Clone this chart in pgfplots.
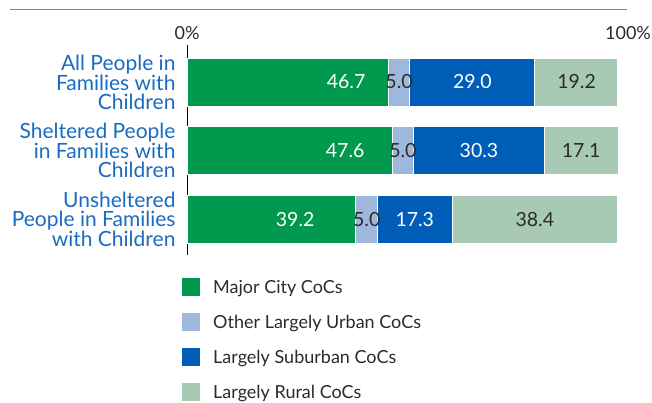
\documentclass[border=0pt]{standalone}
\usepackage{fontspec}
\setmainfont{Lato}
\usepackage{pgfplots}
\pgfplotsset{compat=1.18}

\definecolor{citygreen}{HTML}{00994D}
\definecolor{urbanblue}{HTML}{9DB8DB}
\definecolor{suburbblue}{HTML}{005EB8}
\definecolor{ruralgreen}{HTML}{A8CAB4}
\definecolor{catblue}{HTML}{1A6BC1}
\definecolor{topline}{HTML}{5B8FD0}
\definecolor{darktext}{HTML}{2B2B2B}

\newcommand{\catfont}{\fontsize{21bp}{19bp}\selectfont}
\newcommand{\valfont}{\fontsize{19.5bp}{20bp}\selectfont}
\newcommand{\legfont}{\fontsize{18bp}{19bp}\selectfont}

% shares per CoC type (percent)
\pgfplotstableread{
row city urban suburb rural
0   46.7 5.0   29.0   19.2
1   47.6 5.0   30.3   17.1
2   39.2 5.0   17.3   38.4
}\shares

% label positions (centre of each segment, or chosen spot)
\pgfplotstableread{
x     y lab
36.9  0 46.7
66.2  0 29.0
36.7  1 47.6
67.75 1 30.3
25.1  2 39.2
52.85 2 17.3
}\whitelabels
\pgfplotstableread{
x     y lab
49.2  0 5.0
90.4  0 19.2
50.1  1 5.0
91.45 1 17.1
41.7  2 5.0
80.7  2 38.4
}\darklabels

\begin{document}
\begin{tikzpicture}
\useasboundingbox (0,0) rectangle (652bp,403bp);
\draw[topline, line width=1.2bp] (10bp,393.5bp) -- (627bp,393.5bp);

\pgfplotsset{common/.style={
  at={(187bp,148bp)}, anchor=south west,
  scale only axis, width=431bp, height=210bp,
  xmin=0, xmax=100, ymin=-0.54, ymax=2.525, y dir=reverse,
  clip=false,
}}

\begin{axis}[common,
  xbar stacked, bar width=48bp,
  axis x line=none, axis y line=left,
  y axis line style={-, black, line width=0.8bp},
  ytick={0,1,2}, major tick length=0pt,
  yticklabels={{All People in\\Families with\\Children},
               {Sheltered People\\in Families with\\Children},
               {Unsheltered\\People in Families\\with Children}},
  yticklabel style={align=right, font=\catfont, text=catblue, xshift=-8bp},
  legend image code/.code={\fill[#1, draw=none] (0bp,-9bp) rectangle (18bp,9bp);},
  legend cell align=left,
  legend style={draw=none, fill=none, inner sep=0pt,
    at={(axis description cs:-0.0116,-0.1095)}, anchor=north west,
    row sep=17bp, nodes={inner sep=0pt, font=\legfont, text=darktext},
    /tikz/every odd column/.append style={column sep=13bp}},
]
\addplot[fill=citygreen, draw=white, line width=1bp] table[x=city, y=row] {\shares};
\addplot[fill=urbanblue, draw=white, line width=1bp] table[x=urban, y=row] {\shares};
\addplot[fill=suburbblue, draw=white, line width=1bp] table[x=suburb, y=row] {\shares};
\addplot[fill=ruralgreen, draw=white, line width=1bp] table[x=rural, y=row] {\shares};
\legend{Major City CoCs, Other Largely Urban CoCs, Largely Suburban CoCs, Largely Rural CoCs}
\node[anchor=south, font=\legfont, text=darktext, yshift=2bp] at (axis description cs:0,1) {0\%};
\node[anchor=south, font=\legfont, text=darktext, yshift=2bp, xshift=10bp] at (axis description cs:1,1) {100\%};
\end{axis}

\begin{axis}[common, hide axis]
\addplot[draw=none, mark=none, nodes near coords, point meta=explicit symbolic,
  nodes near coords align=center,
  every node near coord/.append style={font=\valfont, text=white}]
  table[x=x, y=y, meta=lab] {\whitelabels};
\addplot[draw=none, mark=none, nodes near coords, point meta=explicit symbolic,
  nodes near coords align=center,
  every node near coord/.append style={font=\valfont, text=darktext}]
  table[x=x, y=y, meta=lab] {\darklabels};
\end{axis}
\end{tikzpicture}
\end{document}
